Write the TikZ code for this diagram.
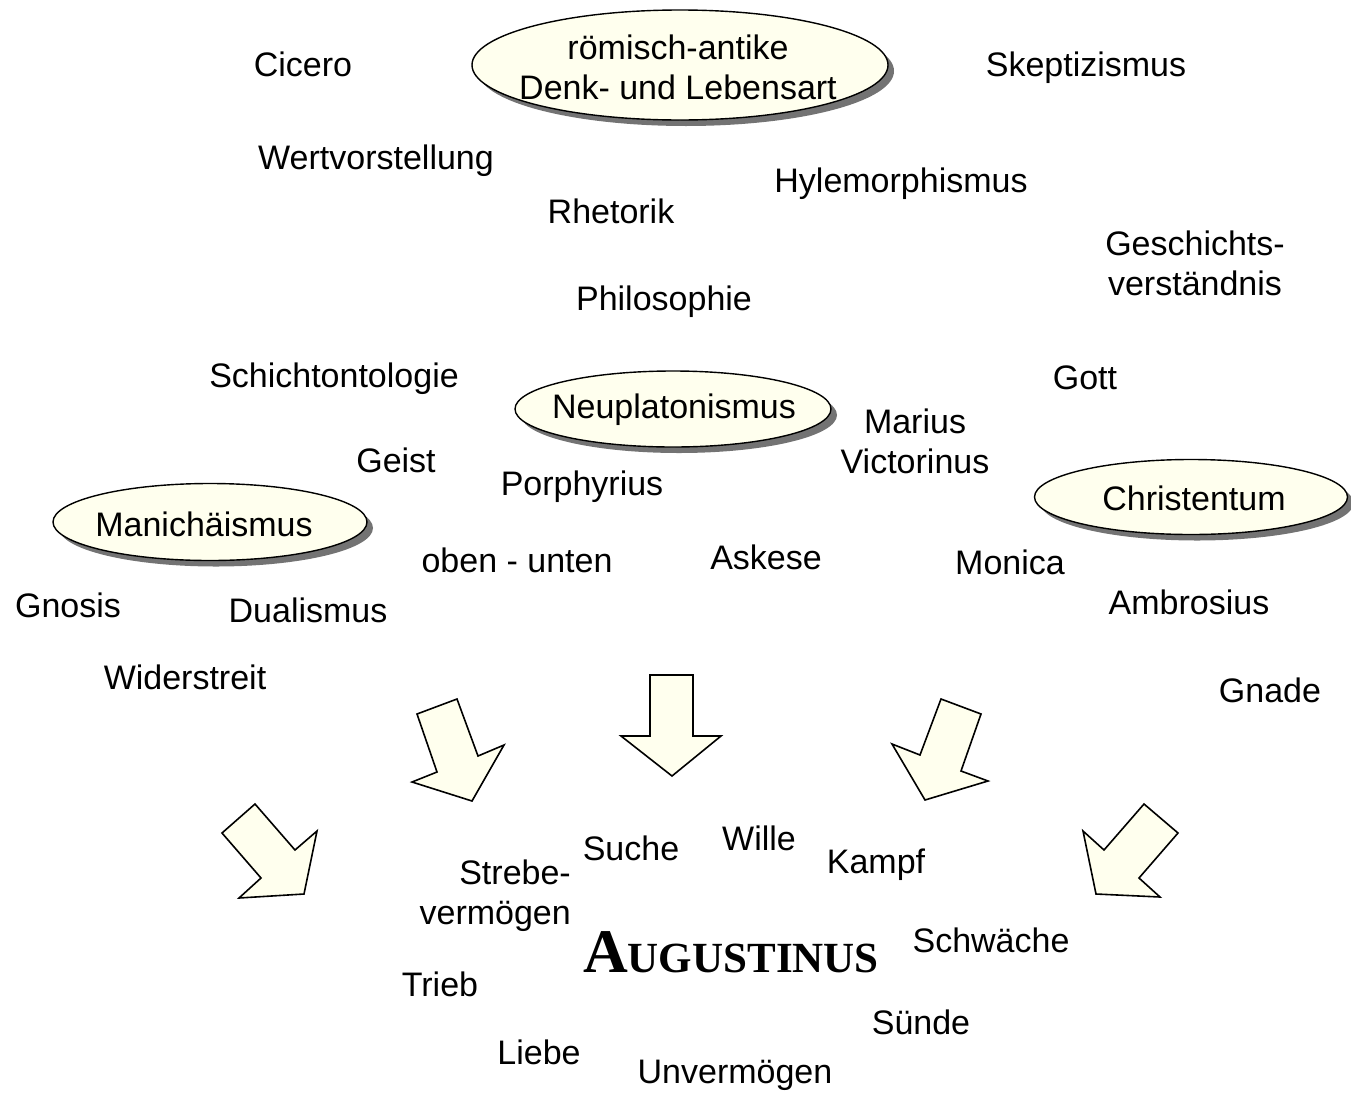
\documentclass[tikz,border=0pt]{standalone}
\usepackage{fontspec}
\setmainfont{Liberation Sans}
\newfontfamily\augfont{Liberation Serif}
\usetikzlibrary{shapes.geometric,shadows}
\definecolor{cream}{HTML}{FFFFEE}
\tikzset{
  lbl/.style={inner sep=0pt, font=\fontsize{34}{40}\selectfont, align=center},
  oval/.style={ellipse, draw=black, line width=1.4pt, fill=cream, inner sep=0pt,
     drop shadow={shadow xshift=6pt, shadow yshift=-6pt, fill=black!55, opacity=1}},
  barrow/.style={draw=black, line width=1.6pt, fill=cream, line join=miter}
}
\begin{document}
\begin{tikzpicture}[x=1pt,y=-1pt]
\useasboundingbox (0,0) rectangle (1351,1095);
% ovals
\node[oval, minimum width=416pt, minimum height=110pt] (antO) at (680,65) {};
\node[lbl] (ant) at (678,67) {römisch-antike\\Denk- und Lebensart};
\node[oval, minimum width=316pt, minimum height=76pt] (neuO) at (673,409) {};
\node[lbl] (neu) at (674,410) {Neuplatonismus};
\node[oval, minimum width=314pt, minimum height=77pt] (manO) at (210,522) {};
\node[lbl] (man) at (204,524) {Manichäismus};
\node[oval, minimum width=313pt, minimum height=75pt] (chrO) at (1191,497) {};
\node[lbl] (chr) at (1194,498) {Christentum};
% labels
\node[lbl] (cic) at (303,64) {Cicero};
\node[lbl] (ske) at (1086,68) {Skeptizismus};
\node[lbl] (wer) at (376,161) {Wertvorstellung};
\node[lbl] (hyl) at (901,184) {Hylemorphismus};
\node[lbl] (rhe) at (611,211) {Rhetorik};
\node[lbl] (ges) at (1195,263) {Geschichts-\\verständnis};
\node[lbl] (phi) at (664,302) {Philosophie};
\node[lbl] (sch) at (334,379) {Schichtontologie};
\node[lbl] (got) at (1085,378) {Gott};
\node[lbl] (mar) at (915,441) {Marius\\Victorinus};
\node[lbl] (gei) at (396,460) {Geist};
\node[lbl] (por) at (582,487) {Porphyrius};
\node[lbl] (obe) at (517,560) {oben - unten};
\node[lbl] (ask) at (766,557) {Askese};
\node[lbl] (mon) at (1010,562) {Monica};
\node[lbl] (amb) at (1189,602) {Ambrosius};
\node[lbl] (gno) at (68,605) {Gnosis};
\node[lbl] (dua) at (308,610) {Dualismus};
\node[lbl] (wid) at (185,677) {Widerstreit};
\node[lbl] (gna) at (1270,690) {Gnade};
\node[lbl] (suc) at (631,848) {Suche};
\node[lbl] (wil) at (759,838) {Wille};
\node[lbl] (kam) at (876,865) {Kampf};
\node[lbl, align=right, anchor=east] (str) at (571,896) {Strebe-\\vermögen};
\node[inner sep=0pt] (aug) at (731,952) {\augfont\bfseries{\fontsize{62}{62}\selectfont A}{\fontsize{43}{43}\selectfont UGUSTINUS}};
\node[lbl] (sch2) at (991,940) {Schwäche};
\node[lbl] (tri) at (440,984) {Trieb};
\node[lbl] (sue) at (921,1022) {Sünde};
\node[lbl] (lie) at (539,1052) {Liebe};
\node[lbl] (unv) at (735,1075) {Unvermögen};
% block arrows
\draw[barrow] (650,675) -- (693,675) -- (693,736) -- (721,736) -- (672,776) -- (621,736) -- (650,736) -- cycle;
\draw[barrow] (417,714) -- (457,699) -- (478,756) -- (504,745) -- (472,801) -- (412,782) -- (437,772) -- cycle;
\draw[barrow] (941,699) -- (981,714) -- (961,771) -- (988,781) -- (925,800) -- (892,744) -- (920,755) -- cycle;
\draw[barrow] (222,833) -- (255,804) -- (295,850) -- (317,831) -- (304,894) -- (239,898) -- (261,878) -- cycle;
\draw[barrow] (1144,804) -- (1178,833) -- (1139,878) -- (1160,897) -- (1096,894) -- (1083,831) -- (1104,850) -- cycle;
\end{tikzpicture}
\end{document}
